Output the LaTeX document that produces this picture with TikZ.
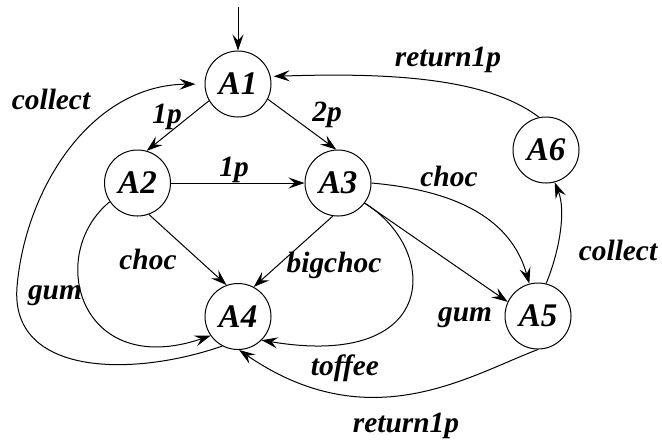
\documentclass[tikz,border=0pt]{standalone}
\usepackage{fontspec}
\setmainfont{Liberation Serif}
\usetikzlibrary{arrows.meta}
\begin{document}
\begin{tikzpicture}[x=0.5pt,y=-0.5pt,
  state/.style={circle,draw,line width=0.5pt,minimum size=33pt,inner sep=0pt,
    font=\fontsize{16.5}{18}\selectfont\bfseries\itshape},
  lbl/.style={font=\fontsize{14.7}{17}\selectfont\bfseries\itshape,inner sep=0pt},
  edge/.style={line width=0.5pt,-{Stealth[length=8pt,width=5.5pt,inset=3pt]}}]
\useasboundingbox (0,0) rectangle (662,441);
\node[state] (A1) at (238,84) {A1};
\node[state] (A2) at (137.5,183) {A2};
\node[state] (A3) at (338,183) {A3};
\node[state] (A4) at (238,316.5) {A4};
\node[state] (A5) at (538,316) {A5};
\node[state] (A6) at (546,150) {A6};
\coordinate (init) at (238,7);
% edges
\draw[edge] (init) -- (A1.north);
\draw[edge] (A1.210) -- (A2.74);
\draw[edge] (A1.-27) -- (A3.93);
\draw[edge] (A2) -- (A3);
\draw[edge] (A2.-70) -- (A4.110);
\draw[edge] (A3.-99) -- (A4.62);
\draw[edge] (A2.214) .. controls (45,255) and (80,380) .. (A4.215);
\draw[edge,shorten >=4.5pt] (A4.242) .. controls (130,378) and (10,375) .. (17,287)
   .. controls (25,190) and (90,85) .. (A1.west);
\draw[edge] (A3.-37) .. controls (440,250) and (440,370) .. (A4.-45);
\draw[edge] (A3.0) .. controls (450,190) and (510,215) .. (A5.105);
\draw[edge] (A3.-37) -- (A5.155);
\draw[edge] (A5.76) .. controls (560,250) and (566,210) .. (A6.-75);
\draw[edge,shorten >=1.5pt] (A6.102) .. controls (490,80) and (400,72) .. (A1.13);
\draw[edge] (A5.-90) .. controls (470,375) and (370,440) .. (A4.-88);
% labels
\node[lbl] (l1) at (167,117) {1p};
\node[lbl] (l2) at (327,115) {2p};
\node[lbl] (l3) at (234,170) {1p};
\node[lbl] (l4) at (148,259) {choc};
\node[lbl] (l5) at (55,296) {gum};
\node[lbl] (l6) at (51,99) {collect};
\node[lbl] (l7) at (334,265) {bigchoc};
\node[lbl] (l8) at (345,368) {toffee};
\node[lbl] (l9) at (449,176) {choc};
\node[lbl] (l10) at (465,318) {gum};
\node[lbl] (l11) at (618,250) {collect};
\node[lbl] (l12) at (448,60) {return1p};
\node[lbl] (l13) at (406,426) {return1p};
\end{tikzpicture}
\end{document}
